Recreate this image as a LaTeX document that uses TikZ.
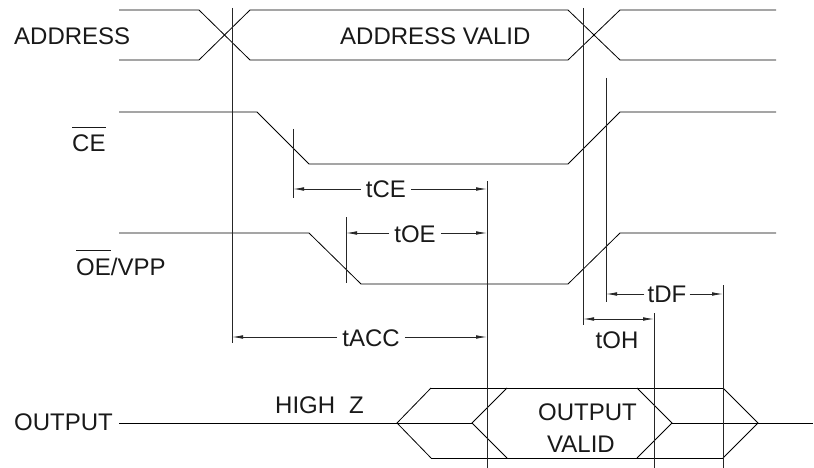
\documentclass[tikz,border=0pt]{standalone}
\usepackage{fontspec}
\setmainfont{Liberation Sans}
\usetikzlibrary{arrows.meta}
\newcommand\ovlbar[1]{\vbox{\hrule height 0.8pt\kern 7.5pt\hbox{#1}}}
\tikzset{
  wave/.style={line width=0.8pt,black},
  refline/.style={line width=0.8pt,black!85},
  dimline/.style={line width=0.8pt,black!85},
  tip/.style={-{Latex[length=11pt,width=3.6pt]}},
  lbl/.style={inner sep=0pt,anchor=base west,font=\fontsize{24}{28}\selectfont,text=black!90},
  tlbl/.style={inner ysep=0pt,inner xsep=5pt,anchor=base,font=\fontsize{24}{28}\selectfont,text=black!90}
}
\begin{document}
\begin{tikzpicture}[x=1pt,y=-1pt]
\useasboundingbox[fill=white] (0,0) rectangle (814,468);
% labels
\node[lbl] (addr) at (14,45) {ADDRESS};
\node[lbl] (addrv) at (340,45) {ADDRESS VALID};
\node[lbl] (ce) at (72,152) {\ovlbar{CE}};
\node[lbl] (oe) at (76,275) {\ovlbar{OE}/VPP};
\node[lbl] (outl) at (14,430) {OUTPUT};
\node[lbl] (hz) at (275,413) {HIGH\hspace{14pt}Z};
\node[lbl] (ov1) at (538,420) {OUTPUT};
\node[lbl] (ov2) at (547,452) {VALID};
% waveforms
\draw[wave] (119,10) -- (199,10) -- (250,60) -- (568,60) -- (620,10) -- (776,10);
\draw[wave] (119,60) -- (199,60) -- (250,10) -- (568,10) -- (620,60) -- (776,60);
\draw[wave] (119,112) -- (257,112) -- (309,164) -- (568,164) -- (620,112) -- (776,112);
\draw[wave] (119,233) -- (309,233) -- (361,284) -- (568,284) -- (620,233) -- (776,233);
\coordinate (o0) at (119,423);
\coordinate (o1) at (472,423);
\draw[wave] (o0) -- (o1);
\draw[wave] (431,388) -- (397,423) -- (431,458);
\draw[wave] (431,388) -- (723,388);
\draw[wave] (431,458) -- (723,458);
\draw[wave] (507,388) -- (472,423) -- (507,458);
\draw[wave] (637,388) -- (672,423) -- (637,458);
\draw[wave] (723,388) -- (758,423) -- (723,458);
\draw[wave] (672,423) -- (813,423);
% reference lines
\draw[refline] (232,8) -- (232,343);
\draw[refline] (583,8) -- (583,325);
\draw[refline] (606,78) -- (606,302);
\draw[refline] (293,129) -- (293,198);
\draw[refline] (346,217) -- (346,283);
\draw[refline] (487,181) -- (487,468);
\draw[refline] (654,313) -- (654,468);
\draw[refline] (723,285) -- (723,468);
% dimension labels
\node[tlbl] (tce) at (386,197) {tCE};
\node[tlbl] (toe) at (415,242) {tOE};
\node[tlbl] (tacc) at (371,346) {tACC};
\node[tlbl,inner xsep=3pt] (tdf) at (667,302) {tDF};
\node[tlbl] (toh) at (617,348) {tOH};
\coordinate (ceL) at (293,189); \coordinate (ceR) at (487,189);
\coordinate (oeL) at (346,233); \coordinate (oeR) at (487,233);
\coordinate (acL) at (232,337); \coordinate (acR) at (487,337);
\coordinate (dfL) at (606,294); \coordinate (dfR) at (723,294);
\coordinate (ohL) at (583,319); \coordinate (ohR) at (654,319);
\draw[dimline,tip] (ceL -| tce.west) -- (ceL);
\draw[dimline,tip] (ceR -| tce.east) -- (ceR);
\draw[dimline,tip] (oeL -| toe.west) -- (oeL);
\draw[dimline,tip] (oeR -| toe.east) -- (oeR);
\draw[dimline,tip] (acL -| tacc.west) -- (acL);
\draw[dimline,tip] (acR -| tacc.east) -- (acR);
\draw[dimline,tip] (dfL -| tdf.west) -- (dfL);
\draw[dimline,tip] (dfR -| tdf.east) -- (dfR);
\draw[dimline,{Latex[length=11pt,width=3.6pt]}-{Latex[length=11pt,width=3.6pt]}] (ohL) -- (ohR);
\end{tikzpicture}
\end{document}
